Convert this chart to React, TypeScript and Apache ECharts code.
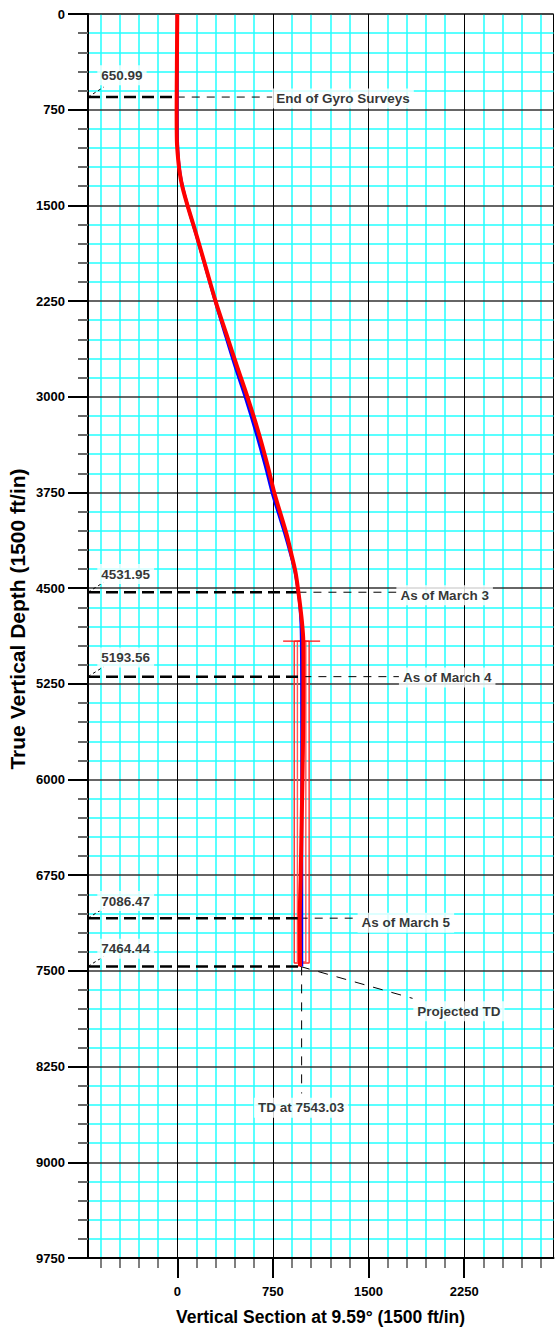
import React, { useEffect, useRef } from "react";
import * as echarts from "echarts";

// ---- axes ----
const X_MIN = -700;
const X_MAX = 2950;
const Y_MIN = 0;
const Y_MAX = 9750;
const Y_INTERVAL = 750;
const MAJOR_X_TICKS = [0, 750, 1500, 2250];
const MINOR_X_TICKS = [
  -600, -450, -300, -150, 150, 300, 450, 600, 900, 1050, 1200, 1350, 1650, 1800,
  1950, 2100, 2400, 2550, 2700, 2850,
];

// ---- well paths (TVD, vertical section) ----
const PLAN_TVD = [0, 750, 1000, 1150, 1250, 1350, 1500, 1720, 1980, 2260, 2500, 2760, 3010, 3290, 3550, 3760, 4070, 4230, 4380, 4540, 4650, 4780, 4910, 5200, 6000, 7000, 7464.44];
const PLAN_VS = [0, 0, 2, 10, 22, 41, 80, 145, 220, 300, 372, 452, 535, 620, 692, 746, 842, 887, 925, 950, 962, 970, 973, 975, 976, 976, 976];
const ACT_TVD = [0, 400, 750, 1000, 1150, 1250, 1350, 1500, 1720, 1980, 2260, 2500, 2760, 3010, 3290, 3550, 3760, 4070, 4230, 4380, 4540, 4650, 4780, 4910, 5200, 5770, 6300, 6790, 7090, 7430, 7464.44];
const ACT_VS = [0, -3, -5, -3, 8, 20, 39, 80, 147, 222, 303, 382, 468, 553, 640, 711, 763, 855, 894, 928, 951, 965, 979, 988, 989, 985, 976, 967, 960, 962, 962];

// ---- target box ----
const BOX_OUTER_VS = [917, 1034];
const BOX_INNER_VS = [942, 1008];
const BOX_TVD = [4915, 7438];
const BOX_TOP_VS = [830, 1120];

// ---- depth markers ----
const MARK_TVD = [650.99, 4531.95, 5193.56, 7086.47, 7464.44];
const MARK_TEXT = ["650.99", "4531.95", "5193.56", "7086.47", "7464.44"];
const MARK_CURVE_VS = [-4, 950, 989, 960, 962];
const MARK_LABEL_VS = -627;
const MARK_LABEL_TVD = [481, 4390, 5043, 6952, 7326];

const NOTE_TEXT = ["End of Gyro Surveys", "As of March 3", "As of March 4", "As of March 5"];
const NOTE_VS = [745, 1718, 1738, 1414];
const NOTE_TVD = [662, 4555, 5200, 7122];

const PROJ_TEXT = "Projected TD";
const PROJ_FROM = [962, 7464.44];
const PROJ_TO = [1845, 7715];
const PROJ_LABEL = [1851, 7817];

const TD_TEXT = "TD at 7543.03";
const TD_FROM = [975, 7464.44];
const TD_TO = [975, 8460];
const TD_LABEL = [601, 8573];

const FONT = "'Liberation Sans', Arial, Helvetica, sans-serif";

function zip(a: number[], b: number[]) {
  return a.map((v, i) => [v, b[i]]);
}

function lineSeries(data: any[], lineStyle: any, z: number) {
  return {
    type: "line",
    data,
    symbol: "none",
    showSymbol: false,
    silent: true,
    z,
    lineStyle,
    xAxisIndex: 0,
    yAxisIndex: 0,
  };
}

function rect(vs: number[], tvd: number[]) {
  return [
    [vs[0], tvd[0]],
    [vs[1], tvd[0]],
    [vs[1], tvd[1]],
    [vs[0], tvd[1]],
    [vs[0], tvd[0]],
  ];
}

const plain = (v: number) => String(v);

export default function App() {
  const ref = useRef<HTMLDivElement>(null);

  useEffect(() => {
    if (!ref.current) return;
    const chart = echarts.init(ref.current, undefined, { renderer: "svg" });

    const series: any[] = [];

    // box
    series.push(lineSeries(rect(BOX_OUTER_VS, BOX_TVD), { color: "#ff2a2a", width: 1.4 }, 4));
    series.push(lineSeries(rect(BOX_INNER_VS, [BOX_TVD[0], BOX_TVD[1] - 8]), { color: "#ff5555", width: 1.4 }, 4));
    series.push(lineSeries([[BOX_TOP_VS[0], BOX_TVD[0]], [BOX_TOP_VS[1], BOX_TVD[0]]], { color: "#ff1010", width: 1.4 }, 4));

    // marker dashed lines
    MARK_TVD.forEach((tvd, i) => {
      series.push(lineSeries([[X_MIN, tvd], [MARK_CURVE_VS[i], tvd]], { color: "#000", width: 2.5, type: [12, 6] }, 5));
      series.push(
        lineSeries([[X_MIN, tvd], [X_MIN + 123, tvd - 78]], { color: "#000", width: 1, type: [3, 3] }, 5)
      );
      if (i < NOTE_TEXT.length) {
        series.push(
          lineSeries([[MARK_CURVE_VS[i], tvd], [NOTE_VS[i], tvd]], { color: "#000", width: 1, type: [8, 7] }, 5)
        );
      }
    });
    series.push(lineSeries([PROJ_FROM, PROJ_TO], { color: "#000", width: 1, type: [10, 9] }, 5));
    series.push(lineSeries([TD_FROM, TD_TO], { color: "#000", width: 1, type: [9, 9] }, 5));

    // well paths
    series.push({
      ...lineSeries(zip(PLAN_VS, PLAN_TVD), { color: "#0000ff", width: 3 }, 6),
      smooth: 0.3,
      name: "Plan",
    });
    series.push({
      ...lineSeries(zip(ACT_VS, ACT_TVD), { color: "#ff0000", width: 4 }, 7),
      smooth: 0.3,
      name: "Actual",
    });

    // labels
    const labelData: any[] = [];
    MARK_TEXT.forEach((t, i) => labelData.push({ value: [MARK_LABEL_VS, MARK_LABEL_TVD[i]], name: t }));
    NOTE_TEXT.forEach((t, i) => labelData.push({ value: [NOTE_VS[i], NOTE_TVD[i]], name: t }));
    labelData.push({ value: PROJ_LABEL, name: PROJ_TEXT });
    labelData.push({ value: TD_LABEL, name: TD_TEXT });
    series.push({
      type: "scatter",
      data: labelData,
      symbolSize: 0,
      silent: true,
      z: 10,
      itemStyle: { color: "transparent" },
      label: {
        show: true,
        position: "right",
        distance: 0,
        formatter: "{b}",
        color: "#000",
        fontWeight: "bold",
        fontSize: 13.5,
        fontFamily: FONT,
        backgroundColor: "#ffffff",
        padding: [3, 4, 3, 4],
      },
    });

    const option: any = {
      animation: false,
      backgroundColor: "#ffffff",
      grid: {
        left: 88,
        top: 14,
        width: 465.5,
        height: 1244,
        show: true,
        borderColor: "#000",
        borderWidth: 1,
        backgroundColor: "transparent",
        containLabel: false,
        outerBoundsMode: "none",
      },
      xAxis: [
        {
          type: "value",
          min: X_MIN,
          max: X_MAX,
          position: "bottom",
          z: 2,
          axisLine: { show: true, onZero: false, lineStyle: { color: "#000", width: 2 } },
          axisTick: {
            show: true,
            customValues: MAJOR_X_TICKS,
            length: 20,
            lineStyle: { color: "#000", width: 2 },
          },
          axisLabel: {
            show: true,
            customValues: MAJOR_X_TICKS,
            formatter: plain,
            margin: 27,
            color: "#000",
            fontWeight: "bold",
            fontSize: 13,
            fontFamily: FONT,
          },
          splitLine: { show: true, lineStyle: { color: "#000", width: 1 } },
        },
        {
          type: "value",
          min: X_MIN,
          max: X_MAX,
          position: "bottom",
          z: 0,
          axisLine: { show: false, onZero: false },
          axisTick: {
            show: true,
            customValues: MINOR_X_TICKS,
            length: 10,
            lineStyle: { color: "#555", width: 1.5 },
          },
          axisLabel: { show: false },
          splitLine: { show: true, lineStyle: { color: "#22ffff", width: 1.5 } },
        },
      ],
      yAxis: {
        type: "value",
        inverse: true,
        min: Y_MIN,
        max: Y_MAX,
        interval: Y_INTERVAL,
        z: 1,
        axisLine: { show: true, onZero: false, lineStyle: { color: "#000", width: 2 } },
        axisTick: { show: true, length: 20, lineStyle: { color: "#000", width: 2 } },
        minorTick: { show: true, splitNumber: 5, length: 10, lineStyle: { color: "#666", width: 2 } },
        splitLine: { show: true, lineStyle: { color: "#333", width: 1.5 } },
        minorSplitLine: { show: true, lineStyle: { color: "#22ffff", width: 1.5 } },
        axisLabel: {
          formatter: plain,
          margin: 23,
          color: "#000",
          fontWeight: "bold",
          fontSize: 13,
          fontFamily: FONT,
        },
      },
      graphic: [
        {
          type: "text",
          x: 320.5,
          y: 1317,
          style: {
            text: "Vertical Section at 9.59° (1500 ft/in)",
            fill: "#000",
            font: `bold 17.5px ${FONT}`,
            textAlign: "center",
            textVerticalAlign: "middle",
          },
        },
        {
          type: "text",
          x: 17,
          y: 619,
          rotation: Math.PI / 2,
          style: {
            text: "True Vertical Depth (1500 ft/in)",
            fill: "#000",
            font: `bold 21px ${FONT}`,
            textAlign: "center",
            textVerticalAlign: "middle",
          },
        },
      ],
      series,
    };

    chart.setOption(option);
    return () => chart.dispose();
  }, []);

  return (
    <div
      ref={ref}
      style={{ position: "absolute", left: 0, top: 0, width: 556, height: 1328, background: "#fff" }}
    />
  );
}
